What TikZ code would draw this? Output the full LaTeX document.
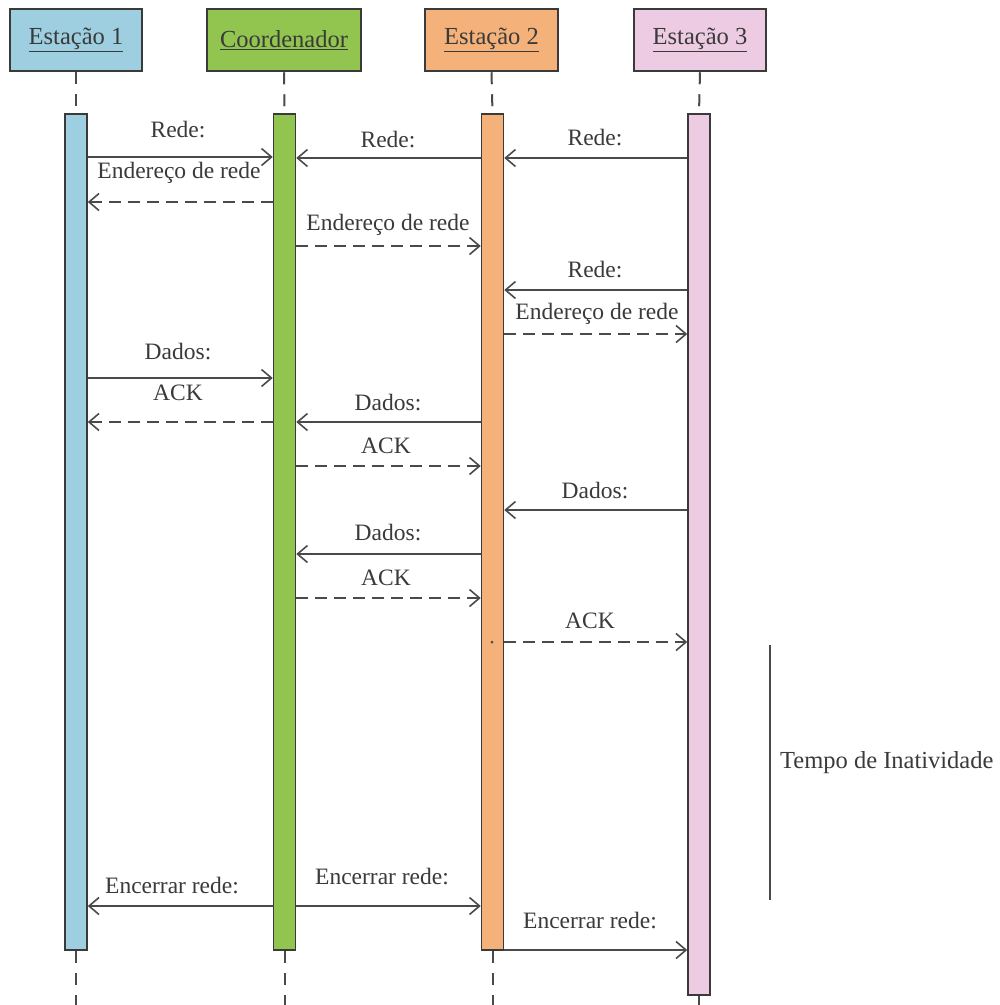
\documentclass[tikz,border=0pt]{standalone}
\usepackage{fontspec}
\setmainfont{Liberation Serif}
\usetikzlibrary{arrows.meta}
\definecolor{cA}{HTML}{9ECFE0}
\definecolor{cB}{HTML}{92C550}
\definecolor{cC}{HTML}{F4B27A}
\definecolor{cD}{HTML}{EDCCE3}
\definecolor{ink}{HTML}{3A3A3A}
\definecolor{wire}{HTML}{4A4A4A}
\tikzset{
  head/.style={draw=ink, line width=2.5pt, minimum width=#1, minimum height=62pt, inner sep=0pt,
    font=\fontsize{24.5}{28}\selectfont, text=ink},
  bar/.style={draw=ink, line width=1.5pt, minimum width=22pt, inner sep=0pt},
  life/.style={draw=wire, line width=2pt, dash pattern=on 12pt off 10pt},
  msg/.style={draw=wire, line width=2pt, -{Straight Barb[length=10pt,width=17pt,line width=1.6pt]}},
  reply/.style={msg, dash pattern=on 12pt off 7pt},
  lbl/.style={font=\fontsize{23.5}{27}\selectfont, text=ink, inner sep=1pt},
}
\begin{document}
\begin{tikzpicture}[x=1pt, y=-1pt]
\useasboundingbox (0,0) rectangle (1000,1005);

% participants
\node[head=132pt, fill=cA] (h1) at (76,40) {\underline{Estação 1}};
\node[head=154pt, fill=cB] (h2) at (284,40) {\underline{Coordenador}};
\node[head=133pt, fill=cC] (h3) at (491.5,40) {\underline{Estação 2}};
\node[head=132pt, fill=cD] (h4) at (700,40) {\underline{Estação 3}};

% activation bars
\node[bar, fill=cA, minimum height=836pt] (b1) at (76,532) {};
\node[bar, fill=cB, minimum height=836pt] (b2) at (284.5,532) {};
\node[bar, fill=cC, minimum height=836pt] (b3) at (492.5,532) {};
\node[bar, fill=cD, minimum height=881pt] (b4) at (699,554.5) {};

% lifelines
\coordinate (e1) at (76,1005);
\coordinate (e2) at (284.5,1005);
\coordinate (e3) at (492.5,1005);
\coordinate (e4) at (699,1005);
\draw[life] (h1.south) -- (b1.north);
\draw[life] (h2.south) -- (b2.north);
\draw[life] (h3.south) -- (b3.north);
\draw[life] (h4.south) -- (b4.north);
\draw[life] (b1.south) -- (e1);
\draw[life] (b2.south) -- (e2);
\draw[life] (b3.south) -- (e3);
\draw[life] (b4.south) -- (e4);

% network joining
\draw[msg] (b1.east |- 0,157) -- (b2.west |- 0,157);
\node[lbl] (t1) at (178,130) {Rede:};
\draw[msg] (b3.west |- 0,158) -- (b2.east |- 0,158);
\node[lbl] (t2) at (388,140) {Rede:};
\draw[msg] (b4.west |- 0,158) -- (b3.east |- 0,158);
\node[lbl] (t3) at (595,138) {Rede:};
\draw[reply] (b2.west |- 0,202) -- (b1.east |- 0,202);
\node[lbl] (t4) at (179,173) {Endereço de rede};
\draw[reply] (b2.east |- 0,246) -- (b3.west |- 0,246);
\node[lbl] (t5) at (388,225) {Endereço de rede};
\draw[msg] (b4.west |- 0,290) -- (b3.east |- 0,290);
\node[lbl] (t6) at (595,270) {Rede:};
\draw[reply] (b3.east |- 0,334) -- (b4.west |- 0,334);
\node[lbl] (t7) at (597,314) {Endereço de rede};

% data exchange
\draw[msg] (b1.east |- 0,378) -- (b2.west |- 0,378);
\node[lbl] (t8) at (178,352) {Dados:};
\draw[reply] (b2.west |- 0,422) -- (b1.east |- 0,422);
\node[lbl] (t9) at (178,393) {ACK};
\draw[msg] (b3.west |- 0,422) -- (b2.east |- 0,422);
\node[lbl] (t10) at (388,403) {Dados:};
\draw[reply] (b2.east |- 0,466) -- (b3.west |- 0,466);
\node[lbl] (t11) at (386,446) {ACK};
\draw[msg] (b4.west |- 0,510) -- (b3.east |- 0,510);
\node[lbl] (t12) at (595,491) {Dados:};
\draw[msg] (b3.west |- 0,554) -- (b2.east |- 0,554);
\node[lbl] (t13) at (388,533) {Dados:};
\draw[reply] (b2.east |- 0,598) -- (b3.west |- 0,598);
\node[lbl] (t14) at (386,578) {ACK};
\coordinate (s15) at (492,642);
\fill[wire] (s15) circle (1.5pt);
\draw[reply] (b3.east |- s15) -- (b4.west |- s15);
\node[lbl] (t15) at (590,621) {ACK};

% idle period
\coordinate (idleA) at (770,645);
\coordinate (idleB) at (770,900);
\draw[wire, line width=1.5pt] (idleA) -- (idleB);
\node[lbl, anchor=west, font=\fontsize{24.5}{28}\selectfont] (idle) at (779,763) {Tempo de Inatividade};

% shutdown
\draw[msg] (b2.west |- 0,906) -- (b1.east |- 0,906);
\node[lbl] (t16) at (172,886) {Encerrar rede:};
\draw[msg] (b2.east |- 0,906) -- (b3.west |- 0,906);
\node[lbl] (t17) at (382,877) {Encerrar rede:};
\draw[msg] (b3.east |- 0,950) -- (b4.west |- 0,950);
\node[lbl] (t18) at (590,921) {Encerrar rede:};
\end{tikzpicture}
\end{document}
